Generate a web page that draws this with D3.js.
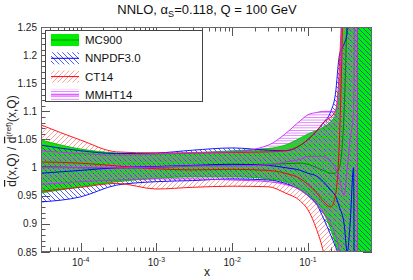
<!DOCTYPE html>
<html>
<head>
<meta charset="utf-8">
<script src="https://cdn.jsdelivr.net/npm/d3@7"></script>
<style>
  body { margin: 0; background: #fff; }
  svg { font-family: "Liberation Sans", Arial, sans-serif; }
</style>
</head>
<body>
<svg id="chart" width="413" height="280"></svg>
<script>
const xs = [3e-5, 1e-4, 3e-4, 1e-3, 3e-3, 1e-2, 3e-2, 0.05, 0.08, 0.1, 0.13, 0.16, 0.2, 0.23, 0.26, 0.3, 0.33, 0.36, 0.4, 0.45, 0.5, 0.6, 0.7];

// MC900
const mcUp  = [1.049, 1.033, 1.026, 1.024, 1.026, 1.030, 1.034, 1.040, 1.053, 1.060, 1.066, 1.072, 1.082, 1.094, 1.13, 1.6, 3, 4, 4, 4, 4, 4, 4];
const mcLo  = [0.955, 0.966, 0.975, 0.981, 0.984, 0.984, 0.980, 0.975, 0.962, 0.952, 0.935, 0.920, 0.890, 0.865, 0.84, 0.6, -1, -2, -2, -2, -2, -2, -2];
const mcMid = [1.002, 1.000, 0.999, 1.000, 1.003, 1.005, 1.006, 1.007, 1.008, 1.006, 1.000, 0.995, 0.990, 0.990, 1.00, 1.1, 1.3, 1.6, 3, 3, 3, 3, 3];

// NNPDF3.0
const nnUp  = [1.040, 1.030, 1.025, 1.026, 1.031, 1.035, 1.031, 1.030, 1.040, 1.050, 1.065, 1.080, 1.100, 1.13, 1.2, 1.22, 1.24, 5, 5, 5, 5, 5, 5];
const nnLo  = [0.939, 0.948, 0.969, 0.975, 0.977, 0.980, 0.978, 0.972, 0.960, 0.950, 0.935, 0.910, 0.880, 0.86, 0.84, 0.8, 0.75, 0.7, -3, -3, -3, -3, -3];
const nnMid = [0.990, 0.995, 1.000, 1.002, 1.004, 1.006, 1.004, 1.000, 0.995, 0.990, 0.985, 0.975, 0.960, 0.95, 0.93, 0.9, 0.85, 0.9, 1.0, -3, -3, -3, -3];

// CT14 (grid stops at x = 0.45)
const ctUp  = [1.076, 1.049, 1.028, 1.026, 1.026, 1.027, 1.028, 1.030, 1.040, 1.050, 1.065, 1.080, 1.090, 1.10, 1.18, 1.5, 4, 4, 4, 4, null, null, null];
const ctLo  = [0.958, 0.965, 0.972, 0.962, 0.965, 0.967, 0.966, 0.955, 0.940, 0.925, 0.890, 0.850, 0.780, 0.70, 0.60, 0.4, -1, -1, -1, -1, null, null, null];
const ctMid = [1.010, 1.008, 1.003, 0.998, 0.996, 0.997, 0.995, 0.990, 0.980, 0.970, 0.955, 0.940, 0.930, 0.95, 1.05, 1.5, 3, 3, 3, 3, null, null, null];

// MMHT14 (grid stops at x = 0.45)
const mmUp  = [1.030, 1.025, 1.022, 1.024, 1.027, 1.028, 1.040, 1.060, 1.084, 1.094, 1.098, 1.100, 1.100, 1.10, 1.15, 1.5, 3, 4, 4, 4, null, null, null];
const mmLo  = [0.970, 0.975, 0.978, 0.980, 0.980, 0.978, 0.975, 0.970, 0.960, 0.950, 0.935, 0.920, 0.900, 0.88, 0.85, 0.7, 0.3, -1, -1, -1, null, null, null];
const mmMid = [1.000, 1.000, 1.000, 1.001, 1.003, 1.003, 1.005, 1.010, 1.015, 1.020, 1.020, 1.020, 1.010, 1.00, 0.98, 0.95, 1.0, 1.05, 1.1, 4, null, null, null];

const yTicks = [0.85, 0.9, 0.95, 1, 1.05, 1.1, 1.15, 1.2, 1.25];
const yTickLabels = ["0.85", "0.9", "0.95", "1", "1.05", "1.1", "1.15", "1.2", "1.25"];
const xDecades = [-4, -3, -2, -1];
const legendNames = ["MC900", "NNPDF3.0", "CT14", "MMHT14"];

const svg = d3.select("#chart");
const pL = 41, pR = 372, pT = 27, pB = 252;

const x = d3.scaleLog().domain([3e-5, 0.7]).range([pL, pR]);
const y = d3.scaleLinear().domain([0.85, 1.25]).range([pB, pT]);

// patterns
const defs = svg.append("defs");
defs.append("clipPath").attr("id", "plotclip")
  .append("rect").attr("x", pL).attr("y", pT).attr("width", pR - pL).attr("height", pB - pT);

function diag(id, color, dir, w) {
  const p = defs.append("pattern").attr("id", id)
    .attr("patternUnits", "userSpaceOnUse").attr("width", 5).attr("height", 5);
  const d = dir === "back"
    ? "M-1,-1 L6,6 M-1,4 L1,6 M4,-1 L6,1"
    : "M-1,6 L6,-1 M-1,1 L1,-1 M4,6 L6,4";
  p.append("path").attr("d", d).attr("stroke", color).attr("stroke-width", w).attr("fill", "none");
}
diag("hatchNN", "#2233ff", "back", 0.8);
diag("hatchCT", "#ff6060", "fwd", 0.6);
const ph = defs.append("pattern").attr("id", "hatchMM")
  .attr("patternUnits", "userSpaceOnUse").attr("width", 4).attr("height", 2.6);
ph.append("line").attr("x1", 0).attr("x2", 4).attr("y1", 0.5).attr("y2", 0.5)
  .attr("stroke", "#d04cff").attr("stroke-width", 0.7);

// ticks (drawn before the bands)
const tickG = svg.append("g").attr("stroke", "#555").attr("stroke-width", 1);
for (let v = 0.85; v <= 1.2501; v += 0.01) {
  const vv = Math.round(v * 100) / 100;
  const major = Math.abs(vv * 20 - Math.round(vv * 20)) < 1e-6;
  const len = major ? 9 : 4.5;
  const py = Math.round(y(vv)) + 0.5;
  tickG.append("line").attr("x1", pL).attr("x2", pL + len).attr("y1", py).attr("y2", py);
  tickG.append("line").attr("x1", pR - len).attr("x2", pR).attr("y1", py).attr("y2", py);
}
const xMinor = [];
for (let e = -5; e <= -1; e++) {
  for (let k = 1; k <= 9; k++) {
    const v = k * Math.pow(10, e);
    if (v >= 3e-5 && v <= 0.7) xMinor.push({ v: v, major: k === 1 });
  }
}
xMinor.forEach(t => {
  const px = Math.round(x(t.v)) + 0.5;
  const len = t.major ? 9 : 4.5;
  tickG.append("line").attr("x1", px).attr("x2", px).attr("y1", pB - len).attr("y2", pB);
  tickG.append("line").attr("x1", px).attr("x2", px).attr("y1", pT).attr("y2", pT + len);
});

// bands
const plot = svg.append("g").attr("clip-path", "url(#plotclip)");
const rows = (up, lo, mid) => xs.map((xv, i) => ({ x: xv, up: up[i], lo: lo[i], mid: mid[i] }))
  .filter(d => d.up != null);
const area = d3.area().x(d => x(d.x)).y0(d => y(d.lo)).y1(d => y(d.up)).curve(d3.curveMonotoneX);
const lineOf = key => d3.line().x(d => x(d.x)).y(d => y(d[key])).curve(d3.curveMonotoneX);

const sets = [
  { data: rows(mcUp, mcLo, mcMid), fill: "#00ee00", line: "#00c000", mid: "#008800" },
  { data: rows(nnUp, nnLo, nnMid), fill: "url(#hatchNN)", line: "#0000ff", mid: "#0000ff" },
  { data: rows(ctUp, ctLo, ctMid), fill: "url(#hatchCT)", line: "#ff0000", mid: "#ff0000" },
  { data: rows(mmUp, mmLo, mmMid), fill: "url(#hatchMM)", line: "#cc22ff", mid: "#cc22ff" }
];
sets.forEach(s => {
  plot.append("path").datum(s.data).attr("d", area).attr("fill", s.fill).attr("stroke", "none");
});
sets.forEach(s => {
  // band outline, closing edge included
  plot.append("path").datum(s.data).attr("d", area)
    .attr("fill", "none").attr("stroke", s.line).attr("stroke-width", 0.9);
  plot.append("path").datum(s.data).attr("d", lineOf("mid"))
    .attr("fill", "none").attr("stroke", s.mid).attr("stroke-width", 1);
});

// frame
svg.append("rect").attr("x", pL + 0.5).attr("y", pT + 0.5)
  .attr("width", pR - pL - 1).attr("height", pB - pT - 1)
  .attr("fill", "none").attr("stroke", "#666").attr("stroke-width", 1);

// y tick labels
svg.append("g").selectAll("text").data(yTicks).join("text")
  .attr("x", 37).attr("y", d => y(d) + 3.5)
  .attr("text-anchor", "end").attr("font-size", 10).attr("fill", "#222")
  .text((d, i) => yTickLabels[i]);

// x tick labels 10^n
const xl = svg.append("g").attr("fill", "#222");
xDecades.forEach(e => {
  const t = xl.append("text").attr("x", x(Math.pow(10, e))).attr("y", 266)
    .attr("text-anchor", "middle").attr("font-size", 10);
  t.append("tspan").text("10");
  t.append("tspan").attr("font-size", 7).attr("dy", -4).text(String(e));
});

// axis titles
svg.append("text").attr("x", 207).attr("y", 276).attr("text-anchor", "middle")
  .attr("font-size", 12).attr("fill", "#222").text("x");

const yl = svg.append("text").attr("transform", "translate(16,141) rotate(-90)")
  .attr("text-anchor", "middle").attr("font-size", 12).attr("fill", "#222");
yl.append("tspan").style("text-decoration", "overline").text("d");
yl.append("tspan").text("(x,Q) / ");
yl.append("tspan").style("text-decoration", "overline").text("d");
yl.append("tspan").attr("font-size", 8).attr("dy", -5).text("(ref)");
yl.append("tspan").attr("dy", 5).text("(x,Q)");

// title
const ti = svg.append("text").attr("x", 207).attr("y", 14).attr("text-anchor", "middle")
  .attr("font-size", 13).attr("fill", "#111");
ti.append("tspan").text("NNLO, α");
ti.append("tspan").attr("font-size", 9).attr("dy", 3).text("S");
ti.append("tspan").attr("dy", -3).text("=0.118, Q = 100 GeV");

// legend
const lg = svg.append("g");
lg.append("rect").attr("x", 45.5).attr("y", 30.5).attr("width", 157).attr("height", 71)
  .attr("fill", "#fff").attr("stroke", "#444").attr("stroke-width", 1);
legendNames.forEach((name, i) => {
  const cy = 40 + i * 18.3;
  const s = sets[i];
  lg.append("rect").attr("x", 51).attr("y", cy - 6).attr("width", 28).attr("height", 12)
    .attr("fill", s.fill);
  lg.append("line").attr("x1", 51).attr("x2", 79).attr("y1", cy).attr("y2", cy)
    .attr("stroke", s.mid).attr("stroke-width", 1);
  lg.append("text").attr("x", 85).attr("y", cy + 4).attr("font-size", 11.5).attr("fill", "#111").text(name);
});
</script>
</body>
</html>
